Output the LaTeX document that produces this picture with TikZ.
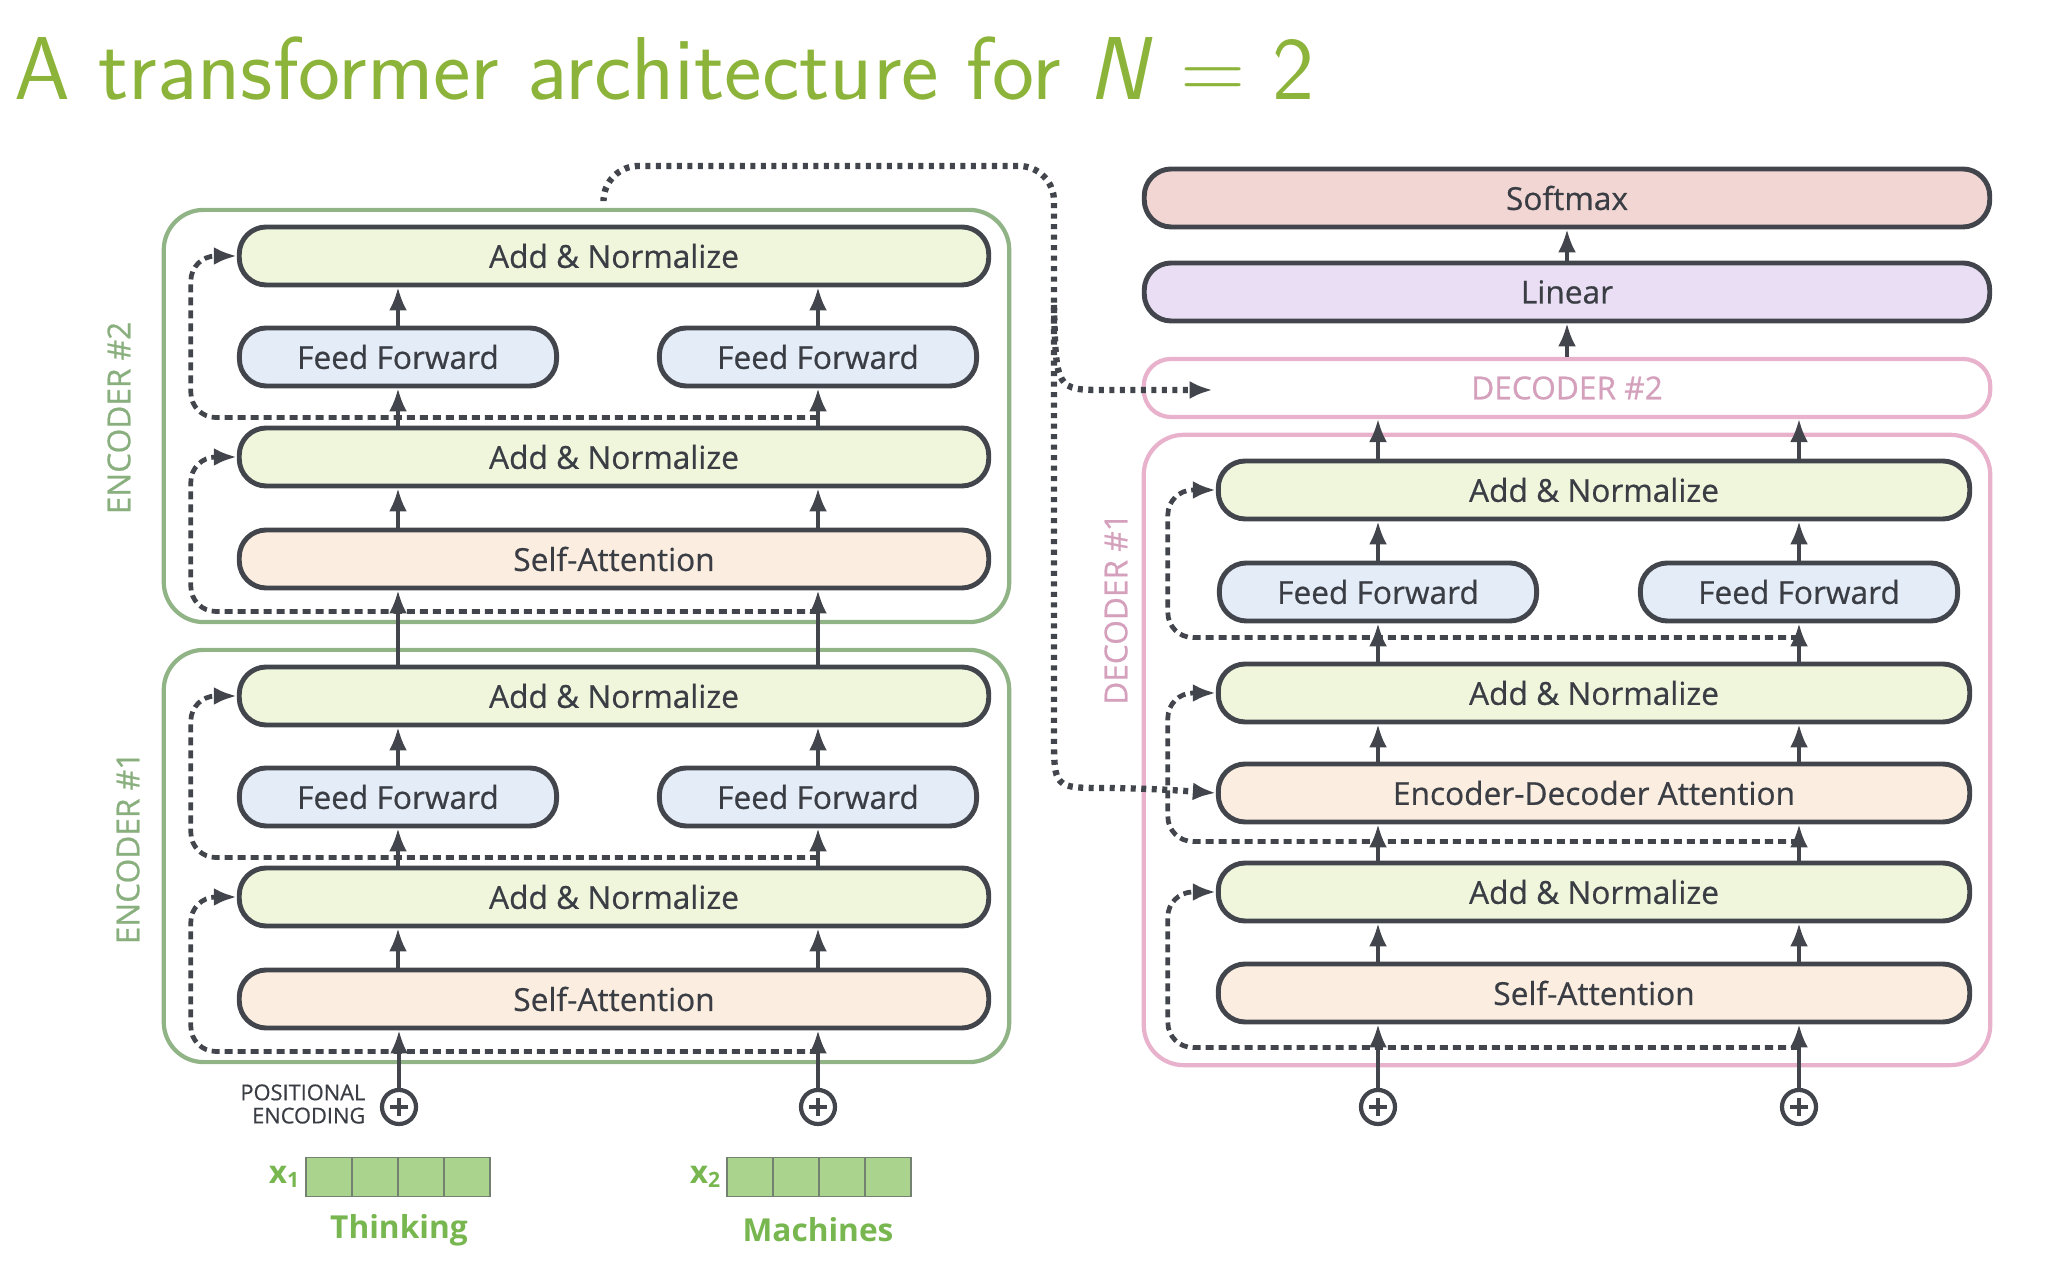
\documentclass[tikz,border=0pt]{standalone}
\usepackage{fontspec}
\newfontfamily\diagfont{Open Sans}[FakeBold=0.6]
\newfontfamily\diagfontbf{Open Sans Bold}
\usetikzlibrary{arrows.meta,calc}

\definecolor{edge}{RGB}{66,70,76}
\definecolor{txt}{RGB}{58,62,68}
\definecolor{addfill}{RGB}{239,246,220}
\definecolor{fffill}{RGB}{228,236,247}
\definecolor{attfill}{RGB}{251,237,224}
\definecolor{softfill}{RGB}{242,214,212}
\definecolor{linfill}{RGB}{233,222,243}
\definecolor{encgreen}{RGB}{145,180,135}
\definecolor{encgreentxt}{RGB}{138,175,126}
\definecolor{decpink}{RGB}{232,178,204}
\definecolor{decpinktxt}{RGB}{212,160,188}
\definecolor{titlegreen}{RGB}{141,180,58}
\definecolor{wordgreen}{RGB}{120,183,80}
\definecolor{cellfill}{RGB}{170,212,142}
\definecolor{cellline}{RGB}{115,130,112}

\tikzset{
  block/.style={draw=edge, line width=1.4pt, rounded corners=0.27cm, minimum height=0.58cm,
    inner sep=0pt, text=txt, font=\diagfont\fontsize{9}{11}\selectfont},
  addnorm/.style={block, fill=addfill, minimum width=7.49cm},
  ffbox/.style={block, fill=fffill, minimum width=3.17cm},
  attbox/.style={block, fill=attfill, minimum width=7.49cm},
  stackbox/.style={draw=#1, line width=1.2pt, rounded corners=0.4cm},
  stacklabel/.style={rotate=90, text=#1, font=\diagfont\fontsize{9}{11}\selectfont},
  flow/.style={-{Latex[length=0.23cm,width=0.18cm]}, draw=edge, line width=1pt},
  resid/.style={flow, line width=1.35pt, dash pattern=on 0.08cm off 0.05cm, rounded corners=0.25cm},
  encout/.style={flow, line width=1.8pt, dash pattern=on 0.05cm off 0.055cm, rounded corners=0.35cm},
  posadd/.style={circle, draw=edge, line width=1.2pt, minimum size=0.34cm, inner sep=0pt,
    path picture={\draw[edge, line width=1.2pt] (path picture bounding box.center) ++(-9,0) -- ++(18,0)
      (path picture bounding box.center) ++(0,-9) -- ++(0,18);}},
  cell/.style={draw=cellline, fill=cellfill, line width=0.5pt, minimum width=0.46cm, minimum height=0.39cm, inner sep=0pt},
  wordlab/.style={text=wordgreen, font=\diagfontbf\fontsize{9}{11}\selectfont}
}

\begin{document}
\begin{tikzpicture}[x=0.01cm, y=-0.01cm]
\useasboundingbox (0,0) rectangle (2066,1268);

% title
\node[anchor=base west, inner sep=0pt, text=titlegreen, font=\sffamily\fontsize{25.4}{29}\selectfont] (title) at (14,100)
  {A transformer architecture for \textit{N}\hspace{0.3em}=\hspace{0.3em}2};

% encoders
\foreach \e/\dy/\lx/\ly in {1/440/128/848, 2/0/119/418} {
  \node[stackbox=encgreen, minimum width=8.45cm, minimum height=4.12cm] (enc\e) at (586.5,416+\dy) {};
  \node[stacklabel=encgreentxt] (enctxt\e) at (\lx,\ly) {ENCODER \#\e};
  \node[addnorm] (ant\e) at (614,256+\dy) {Add \& Normalize};
  \node[ffbox] (ffl\e) at (398,357+\dy) {Feed Forward};
  \node[ffbox] (ffr\e) at (818,357+\dy) {Feed Forward};
  \node[addnorm] (anm\e) at (614,457+\dy) {Add \& Normalize};
  \node[attbox] (sa\e) at (614,559+\dy) {Self-Attention};
  \foreach \col in {ffl\e, ffr\e} {
    \draw[flow] (sa\e.north -| \col) -- (anm\e.south -| \col);
    \draw[flow] (anm\e.north -| \col) -- (\col.south);
    \draw[flow] (\col.north) -- (ant\e.south -| \col);
  }
  \draw[resid] ($(sa\e.south -| ffr\e)+(0,21)$) -| ($(anm\e.west)+(-46,0)$) -- (anm\e.west);
  \draw[resid] ($(anm\e.north -| ffr\e)+(0,-8)$) -| ($(ant\e.west)+(-46,0)$) -- (ant\e.west);
}
\draw[flow] (ant1.north -| ffl1) -- (sa2.south -| ffl1);
\draw[flow] (ant1.north -| ffr1) -- (sa2.south -| ffr1);

% inputs
\node[posadd] (peL) at (399,1107) {};
\node[posadd] (peR) at (818,1107) {};
\draw[flow] (peL) -- (sa1.south -| peL);
\draw[flow] (peR) -- (sa1.south -| peR);
\node[anchor=east, align=right, inner sep=0pt, text=txt, font=\diagfont\fontsize{6.2}{6.6}\selectfont] (posenc) at (366,1104) {POSITIONAL\\ENCODING};
\foreach \c in {0,...,3} {
  \node[cell] (xa\c) at (329+46*\c,1177) {};
  \node[cell] (xb\c) at (750+46*\c,1177) {};
}
\node[wordlab, anchor=east, inner sep=1pt] (xlab1) at (xa0.west) {x\textsubscript{1}};
\node[wordlab, anchor=east, inner sep=1pt] (xlab2) at (xb0.west) {x\textsubscript{2}};
\node[wordlab] (word1) at (399,1230) {Thinking};
\node[wordlab] (word2) at (818,1230) {Machines};

% decoders
\node[block, fill=softfill, minimum width=8.45cm] (soft) at (1567,198) {Softmax};
\node[block, fill=linfill, minimum width=8.45cm] (lin) at (1567,292) {Linear};
\node[block, draw=decpink, line width=1.2pt, fill=white, minimum width=8.46cm, text=decpinktxt] (dec2) at (1567,388) {DECODER \#2};
\node[stackbox=decpink, minimum width=8.46cm, minimum height=6.30cm] (dec1) at (1567,750) {};
\node[stacklabel=decpinktxt] (dectxt1) at (1116,609) {DECODER \#1};
\node[addnorm, minimum width=7.51cm] (antd) at (1594,490) {Add \& Normalize};
\node[ffbox] (ffld) at (1378,592) {Feed Forward};
\node[ffbox] (ffrd) at (1799,592) {Feed Forward};
\node[addnorm, minimum width=7.51cm] (anmd) at (1594,693) {Add \& Normalize};
\node[attbox, minimum width=7.51cm] (eda) at (1594,793) {Encoder-Decoder Attention};
\node[addnorm, minimum width=7.51cm] (anbd) at (1594,892) {Add \& Normalize};
\node[attbox, minimum width=7.51cm] (sad) at (1594,993) {Self-Attention};
\node[posadd] (pdL) at (1378,1107) {};
\node[posadd] (pdR) at (1799,1107) {};

\draw[flow] (lin) -- (soft);
\draw[flow] (dec2) -- (lin);
\foreach \col in {ffld, ffrd} {
  \draw[flow] (antd.north -| \col) -- (dec2.south -| \col);
  \draw[flow] (\col.north) -- (antd.south -| \col);
  \draw[flow] (anmd.north -| \col) -- (\col.south);
  \draw[flow] (eda.north -| \col) -- (anmd.south -| \col);
  \draw[flow] (anbd.north -| \col) -- (eda.south -| \col);
  \draw[flow] (sad.north -| \col) -- (anbd.south -| \col);
}
\draw[flow] (pdL) -- (sad.south -| pdL);
\draw[flow] (pdR) -- (sad.south -| pdR);
\draw[resid] ($(anmd.north -| ffrd)+(0,-24)$) -| ($(antd.west)+(-48,0)$) -- (antd.west);
\draw[resid] ($(eda.south -| ffrd)+(0,17)$) -| ($(anmd.west)+(-48,0)$) -- (anmd.west);
\draw[resid] ($(sad.south -| ffrd)+(0,23)$) -| ($(anbd.west)+(-48,0)$) -- (anbd.west);

% encoder output into the decoders
\draw[encout] ($(enc2.north)+(17,-8)$) |- (1054,166) -- (1054,700) .. controls (1054,788) .. (1140,788) -- (eda.west);
\draw[encout] (1054,305) .. controls (1056,390) .. (1140,390) -- ($(dec2.west)+(71,2)$);

\end{tikzpicture}
\end{document}
